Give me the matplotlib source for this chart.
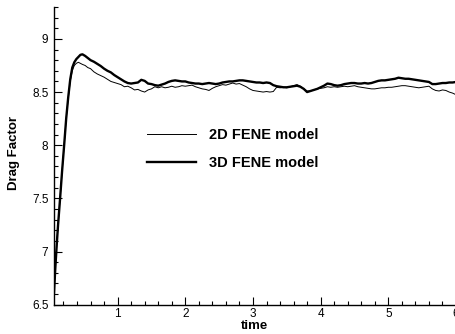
import numpy as np
import matplotlib
matplotlib.use("Agg")
import matplotlib.pyplot as plt
from matplotlib.ticker import MultipleLocator

plt.rcParams['font.family'] = ['Liberation Sans', 'DejaVu Sans']

# start-up transient (same for both models at first)
t_rise = [0.05, 0.08, 0.10, 0.12, 0.15, 0.18, 0.21, 0.24, 0.27, 0.30, 0.33, 0.36]
fene2d_rise = [6.50, 6.85, 7.06, 7.25, 7.50, 7.76, 8.00, 8.25, 8.44, 8.60, 8.70, 8.75]
fene3d_rise = [6.50, 6.85, 7.06, 7.25, 7.50, 7.76, 8.00, 8.25, 8.45, 8.62, 8.73, 8.78]

t_peak = [0.39, 0.42, 0.45, 0.48, 0.52, 0.56, 0.60, 0.65, 0.70, 0.75, 0.80, 0.85, 0.90, 0.95]
fene2d_peak = [8.77, 8.78, 8.77, 8.76, 8.75, 8.73, 8.72, 8.69, 8.67, 8.655, 8.64, 8.62, 8.60, 8.59]
fene3d_peak = [8.81, 8.83, 8.85, 8.855, 8.84, 8.82, 8.80, 8.785, 8.765, 8.745, 8.72, 8.70, 8.685, 8.66]

# t = 1.00 ... 6.00 every 0.05
t_tail = np.round(np.linspace(1.0, 6.0, 101), 2)
fene2d_tail = [
    8.58, 8.57, 8.55, 8.555, 8.54, 8.52, 8.525, 8.51, 8.50, 8.52,
    8.53, 8.55, 8.54, 8.55, 8.54, 8.545, 8.555, 8.545, 8.55, 8.56,
    8.555, 8.56, 8.565, 8.55, 8.54, 8.53, 8.525, 8.515, 8.535, 8.55,
    8.56, 8.57, 8.565, 8.575, 8.585, 8.575, 8.58, 8.565, 8.55, 8.53,
    8.515, 8.51, 8.505, 8.50, 8.505, 8.50, 8.505, 8.545, 8.54, 8.545,
    8.54, 8.55, 8.56, 8.57, 8.555, 8.53, 8.51, 8.51, 8.52, 8.53,
    8.535, 8.54, 8.55, 8.545, 8.55, 8.545, 8.55, 8.555, 8.55, 8.555,
    8.56, 8.55, 8.545, 8.54, 8.535, 8.53, 8.53, 8.535, 8.54, 8.54,
    8.545, 8.545, 8.55, 8.555, 8.56, 8.56, 8.555, 8.55, 8.545, 8.54,
    8.545, 8.55, 8.555, 8.53, 8.515, 8.51, 8.52, 8.515, 8.50, 8.49,
    8.475,
]
fene3d_tail = [
    8.64, 8.62, 8.60, 8.585, 8.58, 8.585, 8.59, 8.615, 8.605, 8.58,
    8.575, 8.565, 8.56, 8.57, 8.58, 8.595, 8.605, 8.61, 8.605, 8.60,
    8.60, 8.59, 8.585, 8.58, 8.58, 8.575, 8.58, 8.585, 8.58, 8.575,
    8.58, 8.59, 8.595, 8.60, 8.60, 8.605, 8.61, 8.61, 8.605, 8.60,
    8.595, 8.59, 8.59, 8.585, 8.59, 8.585, 8.565, 8.555, 8.55, 8.545,
    8.545, 8.55, 8.555, 8.56, 8.55, 8.53, 8.50, 8.51, 8.52, 8.53,
    8.545, 8.56, 8.58, 8.575, 8.565, 8.56, 8.565, 8.575, 8.58, 8.585,
    8.585, 8.58, 8.58, 8.585, 8.58, 8.585, 8.595, 8.605, 8.61, 8.61,
    8.615, 8.62, 8.625, 8.635, 8.63, 8.625, 8.625, 8.62, 8.615, 8.61,
    8.605, 8.60, 8.595, 8.575, 8.575, 8.58, 8.585, 8.585, 8.59, 8.59,
    8.595,
]

time_2d = np.concatenate([t_rise, t_peak, t_tail])
drag_2d = np.concatenate([fene2d_rise, fene2d_peak, fene2d_tail])
time_3d = np.concatenate([t_rise, t_peak, t_tail])
drag_3d = np.concatenate([fene3d_rise, fene3d_peak, fene3d_tail])

fig = plt.figure(figsize=(4.56, 3.34), dpi=100)
ax = fig.add_axes([54 / 456, 29.3 / 334, 402 / 456, 297.7 / 334])

ax.plot(time_2d, drag_2d, color='black', lw=0.7, label='2D FENE model')
ax.plot(time_3d, drag_3d, color='black', lw=1.7, label='3D FENE model')

ax.set_xlim(0.06, 6.0)
ax.set_ylim(6.5, 9.3)
ax.spines['top'].set_visible(False)
ax.spines['right'].set_visible(False)
for s in ('left', 'bottom'):
    ax.spines[s].set_linewidth(1.0)

ax.xaxis.set_minor_locator(MultipleLocator(0.2))
ax.yaxis.set_minor_locator(MultipleLocator(0.1))
ax.set_yticks([6.5, 7, 7.5, 8, 8.5, 9])
ax.set_yticklabels(['6.5', '7', '7.5', '8', '8.5', '9'])
ax.set_xticks([1, 2, 3, 4, 5, 6])
ax.set_xticklabels(['1', '2', '3', '4', '5', '6'])
ax.tick_params(which='both', direction='in', width=0.8, labelsize=8.5)
ax.tick_params(which='major', length=5.5)
ax.tick_params(which='minor', length=3)
ax.tick_params(axis='y', pad=4)
ax.tick_params(axis='x', pad=2.5)

ax.set_ylabel('Drag Factor', fontsize=9.5, fontweight='bold')
ax.set_xlabel('time', fontsize=9.5, fontweight='bold')
ax.yaxis.set_label_coords(-0.085, 0.51)
ax.xaxis.set_label_coords(0.5, -0.052)

ax.legend(loc='center left', bbox_to_anchor=(0.2306, 0.523), frameon=False,
          prop={'weight': 'bold', 'size': 10.5}, handlelength=3.4,
          handletextpad=0.9, labelspacing=1.0, borderpad=0, borderaxespad=0)

fig.savefig('out.png', dpi=100)
